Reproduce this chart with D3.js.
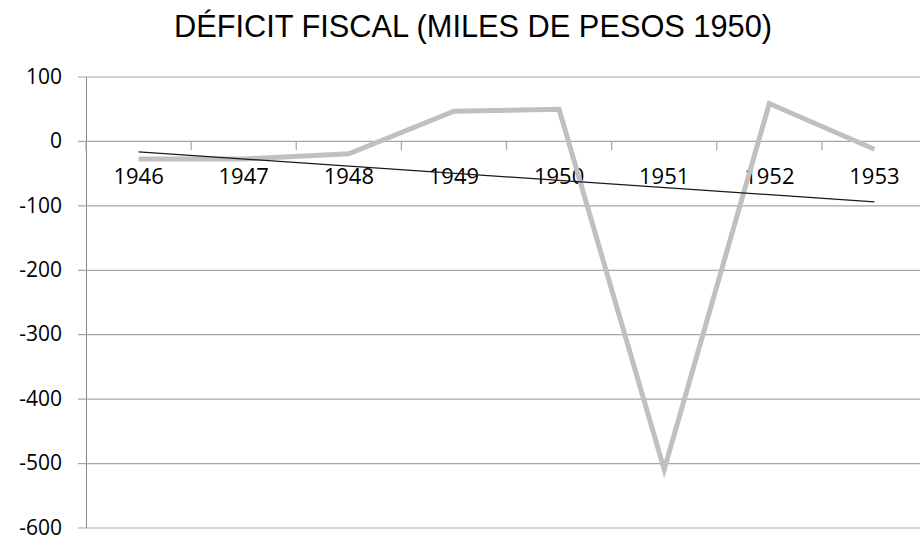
<!DOCTYPE html>
<html>
<head>
<meta charset="utf-8">
<script src="https://cdn.jsdelivr.net/npm/d3@7"></script>
<style>
  body { margin: 0; background: #fff; }
  svg { display: block; }
</style>
</head>
<body>
<div id="chart"></div>
<script>
// data
let years = ["1946", "1947", "1948", "1949", "1950", "1951", "1952", "1953"];
let deficit = [-28, -28, -20, 46, 49, -510, 58, -13];
let yTicks = [100, 0, -100, -200, -300, -400, -500, -600];
let title = "DÉFICIT FISCAL (MILES DE PESOS 1950)";

let totalWidth = 920,
    totalHeight = 540;

let xLeft = 86,
    xRight = 927,
    yTop = 76.5,
    yBottom = 527.5;

let svg = d3.select("#chart").append("svg")
    .attr("width", totalWidth)
    .attr("height", totalHeight);

let xScale = d3.scaleBand().domain(years).range([xLeft, xRight]).padding(0);
let yScale = d3.scaleLinear().domain([-600, 100]).range([yBottom, yTop]);

// linear trend (least squares over category index)
let n = deficit.length;
let mx = (n - 1) / 2;
let my = d3.mean(deficit);
let sxy = 0, sxx = 0;
deficit.forEach(function(v, i) {
    sxy += (i - mx) * (v - my);
    sxx += (i - mx) * (i - mx);
});
let slope = sxy / sxx;
let trend = deficit.map(function(v, i) { return my + slope * (i - mx); });

// title
svg.append("text")
    .attr("x", 473)
    .attr("y", 37)
    .attr("text-anchor", "middle")
    .attr("textLength", 598)
    .attr("lengthAdjust", "spacingAndGlyphs")
    .style("font-family", "'Liberation Sans Narrow', 'Liberation Sans', sans-serif")
    .style("font-size", "31px")
    .style("fill", "#000")
    .text(title);

// y axis with gridlines
let yAxis = d3.axisLeft(yScale)
    .tickValues(yTicks)
    .tickSizeInner(-(xRight - xLeft))
    .tickSizeOuter(0)
    .tickPadding(24)
    .tickFormat(function(d) { return String(d); });

let gy = svg.append("g")
    .attr("transform", "translate(" + xLeft + ",0)")
    .call(yAxis);

gy.select(".domain")
    .attr("stroke", "#868686")
    .attr("stroke-width", 1);
gy.selectAll(".tick line")
    .attr("x1", -8)
    .attr("stroke", "#a6a6a6")
    .attr("stroke-width", 1.2);
gy.selectAll(".tick text")
    .style("font-family", "'Open Sans', 'Noto Sans', sans-serif")
    .style("font-size", "21px")
    .style("fill", "#000")
    .attr("dy", "0.32em");

// category axis sitting on zero
let zeroY = yScale(0);
let gx = svg.append("g")
    .attr("transform", "translate(0," + zeroY + ")");

let bounds = years.map(function(d) { return xScale(d); }).concat([xRight]);
gx.selectAll("line.tick")
    .data(bounds)
    .enter().append("line")
    .attr("class", "tick")
    .attr("x1", function(d) { return d; })
    .attr("x2", function(d) { return d; })
    .attr("y1", 0)
    .attr("y2", 9)
    .attr("stroke", "#a6a6a6")
    .attr("stroke-width", 1.2);

let xAxis = d3.axisBottom(xScale).tickSize(0).tickPadding(27);
let gxl = gx.append("g").call(xAxis);
gxl.select(".domain").remove();
gxl.selectAll(".tick text")
    .style("font-family", "'Open Sans', 'Noto Sans', sans-serif")
    .style("font-size", "22px")
    .style("fill", "#000");

// data line
let line = d3.line()
    .x(function(d, i) { return xScale(years[i]) + xScale.bandwidth() / 2; })
    .y(function(d) { return yScale(d); });

svg.append("path")
    .datum(deficit)
    .attr("d", line)
    .attr("fill", "none")
    .attr("stroke", "#c0c0c0")
    .attr("stroke-width", 5)
    .attr("stroke-linejoin", "miter");

// trend line, first to last category
svg.append("path")
    .datum([0, n - 1])
    .attr("d", d3.line()
        .x(function(i) { return xScale(years[i]) + xScale.bandwidth() / 2; })
        .y(function(i) { return yScale(trend[i]); }))
    .attr("fill", "none")
    .attr("stroke", "#1a1a1a")
    .attr("stroke-width", 1.3);
</script>
</body>
</html>
